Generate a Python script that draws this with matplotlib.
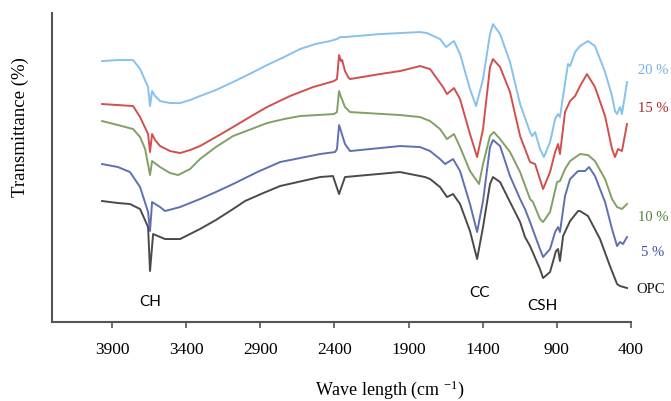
import matplotlib
matplotlib.use("Agg")
import matplotlib.pyplot as plt

plt.rcParams['font.family'] = ['Liberation Serif', 'DejaVu Serif']
plt.rcParams['mathtext.default'] = 'regular'

# FTIR spectra: wavenumber (cm-1) and offset transmittance (arbitrary units)
wn_20 = [3967, 3860, 3758, 3711, 3657, 3644, 3630, 3610, 3576, 3509, 3441, 3374, 3307, 3200,
         3084, 2960, 2855, 2740, 2632, 2530, 2430, 2383, 2363, 2329, 2093, 1823, 1776, 1688,
         1647, 1594, 1553, 1486, 1445, 1398, 1351, 1331, 1283, 1216, 1148, 1081, 1067, 1047,
         1014, 987, 946, 912, 892, 879, 858, 825, 811, 777, 744, 690, 643, 575, 528, 508,
         494, 474, 461, 427]
t_20 = [261, 262, 262, 253, 235, 216, 231, 226, 221, 219, 219, 222, 226, 232,
        240, 249, 257, 265, 273, 278, 281, 283, 285, 285, 288, 290, 289, 283,
        275, 281, 268, 233, 216, 243, 288, 298, 288, 260, 218, 190, 186, 190,
        173, 165, 180, 203, 208, 205, 226, 258, 256, 270, 276, 281, 276, 250, 226, 211,
        208, 215, 208, 240]

wn_15 = [3967, 3860, 3758, 3711, 3657, 3644, 3630, 3610, 3576, 3509, 3441, 3374, 3307, 3200,
         3084, 2960, 2855, 2700, 2544, 2403, 2383, 2369, 2356, 2348, 2329, 2308, 2295, 2093,
         1958, 1823, 1755, 1668, 1641, 1594, 1553, 1486, 1438, 1398, 1351, 1331, 1283, 1216,
         1148, 1081, 1047, 993, 946, 912, 892, 879, 845, 811, 777, 744, 697, 643, 575, 528,
         508, 488, 461, 427]
t_15 = [218, 217, 216, 205, 188, 170, 188, 182, 176, 171, 169, 172, 176, 185,
        195, 206, 215, 226, 235, 241, 243, 267, 261, 262, 251, 245, 243, 248,
        251, 256, 253, 235, 228, 234, 223, 188, 165, 193, 255, 263, 255, 230,
        186, 160, 158, 133, 150, 170, 178, 168, 210, 221, 226, 236, 248, 235, 206, 173,
        165, 173, 171, 198]

wn_10 = [3967, 3860, 3758, 3711, 3677, 3644, 3630, 3576, 3509, 3455, 3374, 3307, 3200, 3084,
         2960, 2855, 2740, 2632, 2403, 2383, 2369, 2356, 2350, 2329, 2295, 1958, 1823, 1755,
         1688, 1641, 1594, 1553, 1486, 1425, 1398, 1351, 1325, 1283, 1216, 1148, 1081, 1061,
         1014, 993, 946, 899, 879, 845, 811, 744, 690, 643, 575, 528, 494, 461, 427]
t_10 = [201, 197, 193, 185, 173, 147, 161, 155, 149, 147, 153, 163, 175, 186,
        193, 199, 203, 206, 208, 210, 231, 225, 223, 215, 210, 207, 205, 201,
        193, 183, 188, 175, 151, 138, 158, 186, 190, 183, 170, 150, 123, 120,
        103, 100, 110, 140, 141, 153, 161, 168, 167, 161, 143, 123, 115, 113, 118]

wn_5 = [3967, 3860, 3779, 3711, 3657, 3644, 3630, 3576, 3543, 3441, 3307, 3200, 3084, 2920,
        2767, 2497, 2396, 2383, 2369, 2356, 2350, 2329, 2295, 1958, 1823, 1755, 1688, 1654,
        1600, 1553, 1486, 1438, 1398, 1351, 1331, 1283, 1216, 1148, 1115, 1081, 1014, 993,
        946, 912, 892, 879, 845, 811, 757, 710, 683, 643, 575, 528, 494, 474, 454, 427]
t_5 = [158, 155, 150, 135, 110, 91, 120, 115, 111, 115, 123, 130, 138, 150,
       160, 168, 170, 173, 197, 191, 188, 178, 171, 176, 175, 171, 163, 158,
       163, 151, 118, 90, 121, 175, 182, 176, 146, 123, 113, 100, 73, 65,
       73, 90, 95, 90, 126, 143, 151, 151, 155, 146, 120, 93, 76, 80, 78, 85]

wn_opc = [3967, 3860, 3779, 3711, 3657, 3644, 3623, 3543, 3441, 3307, 3200, 3084, 3003, 2880,
          2767, 2497, 2410, 2369, 2329, 1958, 1789, 1755, 1688, 1641, 1600, 1553, 1486, 1438,
          1398, 1351, 1331, 1283, 1216, 1148, 1115, 1081, 1014, 993, 946, 906, 892, 879,
          858, 811, 757, 744, 690, 609, 542, 494, 474, 427]
t_opc = [121, 119, 118, 113, 95, 51, 88, 83, 83, 93, 102, 113, 121, 129,
         136, 145, 146, 128, 145, 150, 145, 143, 135, 125, 128, 118, 91, 63,
         95, 138, 145, 140, 120, 100, 85, 76, 53, 44, 50, 71, 73, 61,
         86, 101, 111, 111, 106, 83, 56, 38, 36, 34]

series = [
    (wn_20, t_20, '#86c2ec', '20 %', '#6fb0e4'),
    (wn_15, t_15, '#d0504d', '15 %', '#a32a2a'),
    (wn_10, t_10, '#82a064', '10 %', '#4f8234'),
    (wn_5, t_5, '#5f70b2', '5 %', '#3b4ea0'),
    (wn_opc, t_opc, '#4a4a4a', 'OPC', '#111111'),
]
label_pos = [(352, 253), (352, 215), (352, 106), (332, 71), (366, 34)]

bands = ['CH', 'CC', 'CSH']
band_pos = [(3644, 21), (1420, 30), (1000, 17)]

xticks = [3900, 3400, 2900, 2400, 1900, 1400, 900, 400]

fig = plt.figure(figsize=(6.71, 4.02), dpi=100)
ax = fig.add_axes([0.0775, 0.1965, 0.8629, 0.7685])

for (wn, t, col, lab, lcol), (lx, ly) in zip(series, label_pos):
    ax.plot(wn, t, color=col, linewidth=1.4)
    ax.text(lx, ly, lab, color=lcol, fontsize=10.5, va='center', ha='left', clip_on=False)

for b, (bx, by) in zip(bands, band_pos):
    ax.text(bx, by, b, fontsize=11, ha='center', va='center', family=['Lato', 'DejaVu Sans'])

ax.set_xlim(4305, 400)
ax.set_ylim(0, 309)
ax.set_xticks(xticks)
ax.set_yticks([])
ax.tick_params(axis='x', direction='out', length=4, width=1.2, color='#555555',
               labelsize=12.5, pad=10)
for s in ['top', 'right']:
    ax.spines[s].set_visible(False)
for s in ['left', 'bottom']:
    ax.spines[s].set_color('#555555')
    ax.spines[s].set_linewidth(1.5)

fig.text(0.581, 0.03, r'Wave length (cm $^{-1}$)', fontsize=13, ha='center', va='center')
fig.text(0.03, 0.685, 'Transmittance (%)', fontsize=13.5, rotation=90, ha='center', va='center')

plt.savefig('out.png', dpi=100)
